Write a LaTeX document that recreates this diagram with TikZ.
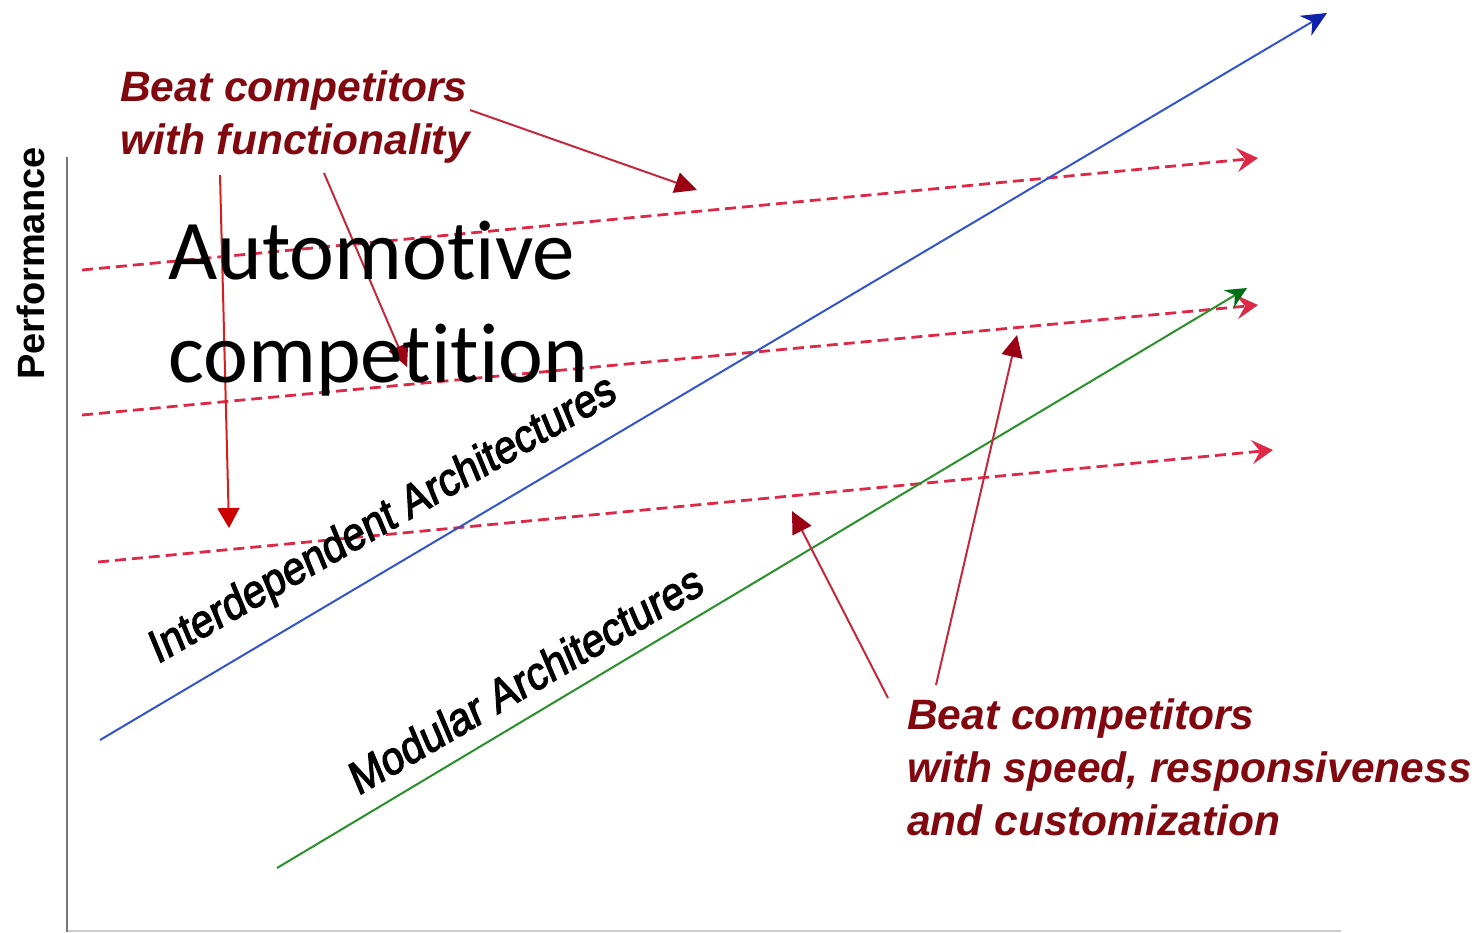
\documentclass[tikz,border=0pt]{standalone}
\usepackage{fontspec}
\setmainfont{Liberation Sans}
\newfontfamily\calibrifont[Ligatures=NoCommon]{Carlito}
\newfontfamily\archfont[FakeBold=2.8]{Liberation Sans}
\usetikzlibrary{arrows.meta}

\definecolor{labelred}{RGB}{130,8,16}
\definecolor{trendred}{RGB}{222,40,72}
\definecolor{interblue}{RGB}{50,85,205}
\definecolor{interbluehead}{RGB}{15,35,170}
\definecolor{modgreen}{RGB}{40,145,40}
\definecolor{modgreenhead}{RGB}{0,110,20}
\definecolor{pointerred}{RGB}{195,40,60}
\definecolor{pointerhead}{RGB}{155,0,20}
\definecolor{brightred}{RGB}{215,30,30}
\definecolor{brightredhead}{RGB}{205,0,0}

\begin{document}
\begin{tikzpicture}[x=1pt,y=-1pt,
  axis/.style={draw={rgb,255:red,120;green,120;blue,120}, line width=2.5pt},
  baseaxis/.style={draw={rgb,255:red,205;green,205;blue,205}, line width=2pt},
  perf/.style={font=\bfseries\fontsize{38}{44}\selectfont, inner sep=0pt},
  callout/.style={font=\bfseries\itshape\fontsize{42.5}{53}\selectfont, text=labelred, align=left, inner sep=0pt},
  bigtext/.style={font=\calibrifont\fontsize{85}{103}\selectfont, align=left, inner sep=0pt},
  archlabel/.style={font=\archfont\fontsize{47}{54}\selectfont, inner sep=0pt, xscale=0.85},
  interline/.style={draw=interblue, line width=2pt, -{Stealth[length=25pt,width=23pt,inset=8pt,color=interbluehead]}},
  modline/.style={draw=modgreen, line width=2pt, -{Stealth[length=21pt,width=20pt,inset=7pt,color=modgreenhead]}},
  trend/.style={draw=trendred, line width=2.8pt, dash pattern=on 11pt off 6pt, -{Stealth[length=21pt,width=24pt,inset=8pt,color=trendred]}},
  pointer/.style={draw=pointerred, line width=2pt, -{Triangle[length=22pt,width=21pt,color=pointerhead]}},
  brightpointer/.style={draw=brightred, line width=2pt, -{Triangle[length=20pt,width=22pt,color=brightredhead]}}
]
\useasboundingbox (0,0) rectangle (1481,932);
\fill[white] (0,0) rectangle (1481,932);

% axes
\coordinate (ytop) at (67,157);
\coordinate (ybot) at (67,932);
\coordinate (xstart) at (68,931);
\coordinate (xend) at (1341,931);
\draw[axis] (ytop) -- (ybot);
\draw[baseaxis] (xstart) -- (xend);
\node[perf, rotate=90, anchor=base west] (perf) at (44,380) {Performance};

% performance trajectories demanded by the market
\coordinate (t1a) at (82,270);  \coordinate (t1b) at (1258,158);
\coordinate (t2a) at (82,415);  \coordinate (t2b) at (1258,305);
\coordinate (t3a) at (98,562);  \coordinate (t3b) at (1273,450);
\draw[trend] (t1a) -- (t1b);
\draw[trend] (t2a) -- (t2b);
\draw[trend] (t3a) -- (t3b);

% architecture trajectories
\coordinate (ia) at (100,740);  \coordinate (ib) at (1327,13);
\coordinate (ma) at (277,868);  \coordinate (mb) at (1247,288);
\draw[interline] (ia) -- (ib);
\draw[modline] (ma) -- (mb);

\node[archlabel, rotate=26, anchor=base] (inter) at (388,532) {Interdependent Architectures};
\node[archlabel, rotate=26.5, anchor=base] (modu) at (532,694) {Modular Architectures};

% callouts
\node[callout, anchor=north west] (fun) at (120,70) {Beat competitors\\with functionality};
\node[callout, anchor=north west] (speed) at (907,698) {Beat competitors\\with speed, responsiveness\\and customization};

% pointers from the callouts
\coordinate (f1) at (470,110);  \coordinate (f1t) at (697,190);
\coordinate (f2) at (220,175);  \coordinate (f2t) at (229,528);
\coordinate (f3) at (324,173);  \coordinate (f3t) at (407,367);
\coordinate (s1) at (888,698);  \coordinate (s1t) at (792,511);
\coordinate (s2) at (936,685);  \coordinate (s2t) at (1017,335);
\draw[pointer] (f1) -- (f1t);
\draw[brightpointer] (f2) -- (f2t);
\draw[pointer] (f3) -- (f3t);
\draw[pointer] (s1) -- (s1t);
\draw[pointer] (s2) -- (s2t);

% title
\node[bigtext, anchor=north west] (auto) at (168,221) {Automotive\\competition};
\end{tikzpicture}
\end{document}
